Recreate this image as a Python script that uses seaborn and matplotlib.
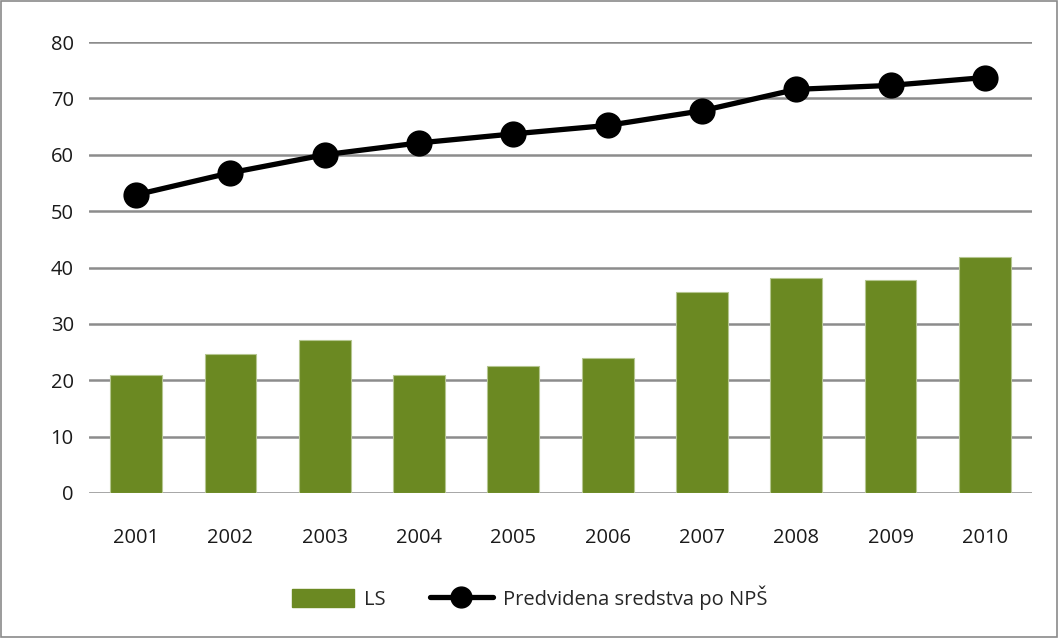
import matplotlib
matplotlib.use("Agg")
import matplotlib.pyplot as plt
import seaborn as sns
import pandas as pd
from matplotlib.patches import Patch
from matplotlib.lines import Line2D

years = ["2001", "2002", "2003", "2004", "2005", "2006", "2007", "2008", "2009", "2010"]
ls_values = [21.0, 24.6, 27.1, 21.0, 22.6, 23.9, 35.7, 38.1, 37.7, 41.8]
nps_values = [52.9, 56.8, 60.0, 62.1, 63.7, 65.2, 67.8, 71.6, 72.3, 73.7]
yticks = [0, 10, 20, 30, 40, 50, 60, 70, 80]
label_ls = "LS"
label_nps = "Predvidena sredstva po NPŠ"

sns.set_style("white")
plt.rcParams['font.family'] = ['Open Sans', 'DejaVu Sans']

df = pd.DataFrame({"year": years, "LS": ls_values, "NPS": nps_values})

green = "#6b8922"
fig = plt.figure(figsize=(10.59, 6.38), dpi=100)
ax = fig.add_axes([89/1059, 1 - 493/638, (1032-89)/1059, (493-42)/638])

sns.barplot(data=df, x="year", y="LS", color=green, width=0.55, saturation=1,
            edgecolor="#b5c690", linewidth=0.8, ax=ax, zorder=3)
sns.pointplot(data=df, x="year", y="NPS", color="black", markers="o",
              markersize=16, linewidth=3.8, ax=ax, zorder=4)

ax.set_xlim(-0.5, 9.5)
ax.set_ylim(0, 80)
ax.set_yticks(yticks)
ax.yaxis.grid(True, color="#8c8c8c", linewidth=1.8, zorder=0)
ax.set_axisbelow(True)
for s in ax.spines.values():
    s.set_visible(False)
ax.set_xlabel("")
ax.set_ylabel("")
ax.tick_params(axis="both", length=0, labelsize=14.5, colors="#1a1a1a")
ax.tick_params(axis="y", pad=11)
ax.tick_params(axis="x", pad=25)

handles = [Patch(facecolor=green, edgecolor=green),
           Line2D([0], [0], color="black", linewidth=3.8, marker="o", markersize=15)]
fig.legend(handles, [label_ls, label_nps], loc="center", bbox_to_anchor=(0.5, 1 - 598/638),
           ncol=2, frameon=False, fontsize=14.5, handlelength=3.1, handleheight=1.0,
           columnspacing=2.2, handletextpad=0.5)

border = plt.Rectangle((0.001, 0.001), 0.997, 0.997, transform=fig.transFigure,
                       fill=False, edgecolor="#8a8a8a", linewidth=1.2)
fig.patches.append(border)

fig.savefig("out.png", dpi=100)
